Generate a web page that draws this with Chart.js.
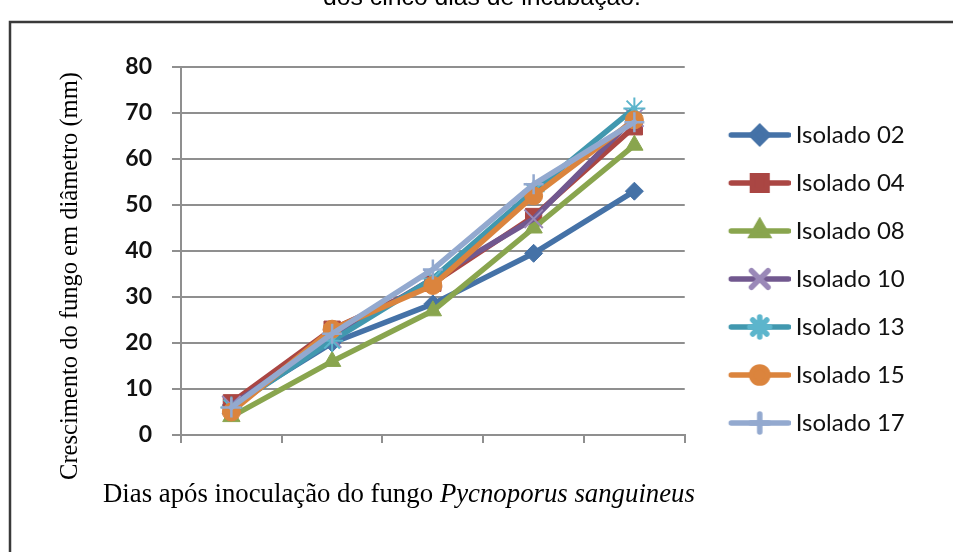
<!DOCTYPE html>
<html><head><meta charset="utf-8">
<script src="https://cdn.jsdelivr.net/npm/chart.js@4.4.1/dist/chart.umd.min.js"></script>
<style>html,body{margin:0;padding:0;background:#fff;overflow:hidden}#wrap{position:relative;width:953px;height:552px}canvas{display:block}</style>
</head><body><div id="wrap"><canvas id="c" width="953" height="552"></canvas></div>
<script>
// ---- data ----
const categories = ['1', '2', '3', '4', '5'];
const seriesNames = ['Isolado 02', 'Isolado 04', 'Isolado 08', 'Isolado 10', 'Isolado 13', 'Isolado 15', 'Isolado 17'];
const isolado02 = [6.5, 20, 28.5, 39.5, 53];
const isolado04 = [7, 23, 33, 47.5, 67];
const isolado08 = [4, 16, 27, 45, 63];
const isolado10 = [6.5, 21, 34, 47, 69];
const isolado13 = [6, 20.5, 34, 53, 71];
const isolado15 = [5, 23, 32.5, 52, 68.5];
const isolado17 = [6, 22, 36, 54.5, 68];
const yTickValues = [0, 10, 20, 30, 40, 50, 60, 70, 80];
const yAxisTitle = 'Crescimento do fungo em diâmetro (mm)';
const xAxisTitleNormal = 'Dias após inoculação do fungo ';
const xAxisTitleItalic = 'Pycnoporus sanguineus';
const captionText = 'dos cinco dias de incubação.';

const seriesValues = [isolado02, isolado04, isolado08, isolado10, isolado13, isolado15, isolado17];

// ---- styles ----
const styles = [
  {color: '#4572A7', marker: 'rectRot', radius: 9, mfill: '#4572A7', mborder: '#4572A7', mbw: 1},
  {color: '#AA4643', marker: 'rect', radius: 11.5, mfill: '#AA4643', mborder: '#AA4643', mbw: 1},
  {color: '#89A54E', marker: 'triangle', radius: 10, mfill: '#89A54E', mborder: '#89A54E', mbw: 1},
  {color: '#71588F', marker: 'crossRot', radius: 13, mfill: '#9a88b8', mborder: '#9a88b8', mbw: 2},
  {color: '#4198AF', marker: 'star', radius: 11, mfill: '#5cb5cc', mborder: '#5cb5cc', mbw: 2},
  {color: '#DB843D', marker: 'circle', radius: 9, mfill: '#DB843D', mborder: '#DB843D', mbw: 1},
  {color: '#93A9CF', marker: 'cross', radius: 10, mfill: '#93A9CF', mborder: '#93A9CF', mbw: 2.5}
];

const LEGEND_FONT = {family: 'Lato', size: 24};
const BOXW = 75;

// legend sample images (line + marker)
function makeLegendImage(st) {
  const cv = document.createElement('canvas');
  cv.width = 89; cv.height = 28;
  const c = cv.getContext('2d');
  c.strokeStyle = st.color; c.lineWidth = 5.5; c.lineCap = 'round';
  c.beginPath(); c.moveTo(29.5, 14); c.lineTo(86.5, 14); c.stroke();
  c.fillStyle = st.mfill; c.strokeStyle = st.mborder;
  Chart.helpers.drawPoint(c, {pointStyle: st.marker, radius: st.radius * 0.9, borderWidth: st.mbw, rotation: 0}, 58, 14);
  return cv;
}
const legendImages = styles.map(makeLegendImage);

// measure legend text for layout
const mctx = document.createElement('canvas').getContext('2d');
mctx.font = LEGEND_FONT.size + 'px ' + LEGEND_FONT.family;
const textW = Math.max(...seriesNames.map(n => mctx.measureText(n).width));
const rightPad = Math.max(0, 149 - textW);

const decor = {
  id: 'decor',
  beforeDraw(chart) {
    const ctx = chart.ctx;
    ctx.save(); ctx.fillStyle = '#fff'; ctx.fillRect(0, 0, chart.width, chart.height); ctx.restore();
  },
  afterDraw(chart) {
    const ctx = chart.ctx;
    ctx.save();
    // frame
    ctx.strokeStyle = '#3a3a3a'; ctx.lineWidth = 2.5;
    ctx.beginPath(); ctx.moveTo(10, 600); ctx.lineTo(10, 22); ctx.lineTo(1000, 22); ctx.stroke();
    // caption (cut at top)
    ctx.fillStyle = '#000';
    ctx.font = '100px "Liberation Sans"';
    let w = ctx.measureText(captionText).width;
    let fs = 100 * 318 / w;
    ctx.font = fs + 'px "Liberation Sans"';
    ctx.textBaseline = 'alphabetic'; ctx.textAlign = 'center';
    ctx.fillText(captionText, 482, 5);
    // y title
    ctx.font = '100px "Liberation Serif"';
    w = ctx.measureText(yAxisTitle).width;
    fs = 100 * 408 / w;
    ctx.font = fs + 'px "Liberation Serif"';
    ctx.save(); ctx.translate(71, 276); ctx.rotate(-Math.PI / 2);
    ctx.textAlign = 'center'; ctx.textBaseline = 'middle';
    ctx.fillText(yAxisTitle, 0, 0);
    ctx.restore();
    // x title
    ctx.font = '100px "Liberation Serif"';
    const w1 = ctx.measureText(xAxisTitleNormal).width;
    ctx.font = 'italic 100px "Liberation Serif"';
    const w2 = ctx.measureText(xAxisTitleItalic).width;
    fs = 100 * 592 / (w1 + w2);
    ctx.textAlign = 'left'; ctx.textBaseline = 'alphabetic';
    ctx.font = fs + 'px "Liberation Serif"';
    ctx.fillText(xAxisTitleNormal, 103, 502);
    ctx.font = 'italic ' + fs + 'px "Liberation Serif"';
    ctx.fillText(xAxisTitleItalic, 103 + w1 * fs / 100, 502);
    ctx.restore();
  }
};

const GRID = '#8f8f8f';

new Chart(document.getElementById('c'), {
  type: 'line',
  data: {
    labels: categories,
    datasets: seriesNames.map((name, i) => ({
      label: name,
      data: seriesValues[i],
      borderColor: styles[i].color,
      backgroundColor: styles[i].mfill,
      borderWidth: 5.5,
      borderJoinStyle: 'round',
      borderCapStyle: 'round',
      tension: 0,
      pointStyle: styles[i].marker,
      pointRadius: styles[i].radius,
      pointHoverRadius: styles[i].radius,
      pointBackgroundColor: styles[i].mfill,
      pointBorderColor: styles[i].mborder,
      pointBorderWidth: styles[i].mbw,
      order: seriesNames.length - 1 - i,
      clip: false
    }))
  },
  options: {
    responsive: false,
    animation: false,
    devicePixelRatio: 1,
    layout: {padding: {top: 67, bottom: 61, left: 0, right: rightPad}},
    plugins: {
      tooltip: {enabled: false},
      title: {display: false},
      legend: {
        position: 'right',
        align: 'center',
        labels: {
          usePointStyle: true,
          pointStyleWidth: BOXW,
          boxHeight: 24,
          padding: 24,
          font: LEGEND_FONT,
          color: '#111',
          sort: (a, b) => a.datasetIndex - b.datasetIndex,
          generateLabels: chart => chart.data.datasets.map((ds, i) => ({
            text: ds.label,
            pointStyle: legendImages[i],
            datasetIndex: i,
            hidden: false,
            fillStyle: ds.borderColor,
            strokeStyle: ds.borderColor,
            lineWidth: 0,
            fontColor: '#111'
          }))
        }
      }
    },
    scales: {
      x: {
        type: 'category',
        offset: true,
        grid: {offset: true, drawOnChartArea: false, drawTicks: true, tickLength: 8, color: GRID, lineWidth: 2},
        border: {display: true, color: GRID, width: 2},
        ticks: {display: false},
        afterFit: s => { s.height = 56; }
      },
      y: {
        min: 0, max: 80,
        grid: {color: GRID, lineWidth: 2, drawTicks: true, tickLength: 9},
        border: {display: true, color: GRID, width: 2},
        ticks: {stepSize: 10, padding: 20, color: '#111', font: {family: 'Lato', size: 23, weight: 'bold'}},
        afterBuildTicks: s => { s.ticks = yTickValues.map(v => ({value: v})); },
        afterFit: s => { s.width = 181; }
      }
    }
  },
  plugins: [decor]
});
</script>
</body></html>
